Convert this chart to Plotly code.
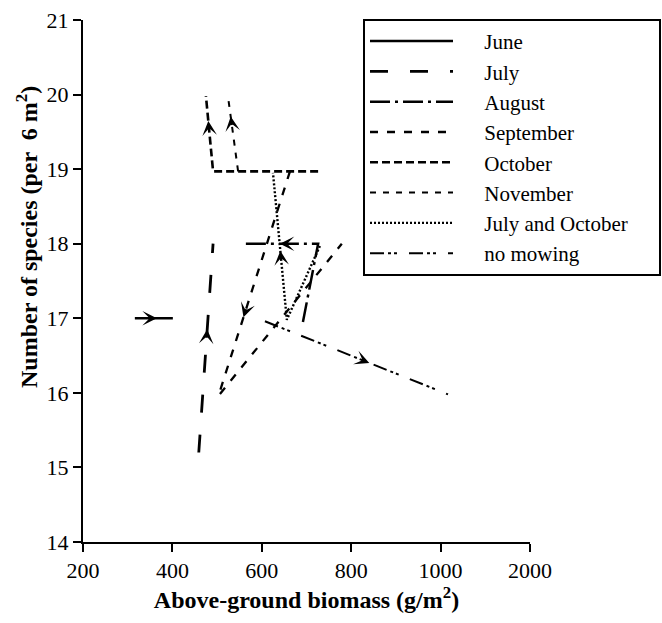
import plotly.graph_objects as go
import math

# ---------------- data (real values) ----------------
series_names = ["June", "July", "August", "September", "October",
                "November", "July and October", "no mowing"]

june_x = [316, 401]
june_y = [17.0, 17.0]

july_x = [459, 491]
july_y = [15.2, 18.0]

august_x = [692, 726, 558]
august_y = [16.95, 18.0, 18.0]

september_x = [663, 503, 779]
september_y = [18.97, 15.96, 18.0]

october_x = [726, 491, 475]
october_y = [18.97, 18.97, 19.98]

november_x = [547, 524]
november_y = [18.97, 19.99]

julyoct_x = [730, 656, 625]
julyoct_y = [17.97, 16.98, 18.95]

nomow_x = [607, 1083]
nomow_y = [16.96, 15.98]

# arrows: (series index, segment index, fraction along segment)
arrows = [(0, 0, 0.58), (1, 0, 0.59), (2, 1, 0.51), (3, 0, 0.65),
          (4, 1, 0.67), (5, 0, 0.72), (6, 1, 0.47), (7, 0, 0.57)]

x_tick_labels = ["200", "400", "600", "800", "1000", "2000"]
x_tick_real = [200, 400, 600, 800, 1000, 2000]
y_ticks = [14, 15, 16, 17, 18, 19, 20, 21]

x_title = "<b>Above-ground biomass (g/m<sup>2</sup>)</b>"
y_title = "<b>Number of species (per  6 m<sup>2</sup>)</b>"

# ---------------- styling ----------------
dashes = ["solid", "18px,22px", "20px,5px,3px,5px", "8px,9px",
          "8px,4px", "6px,7px", "2px,2px", "14px,4px,3px,3px,3px,12px"]
widths = [2.5, 2.8, 2.5, 2.3, 2.6, 2.0, 2.4, 2.0]

FONT = "Liberation Serif, Times New Roman, serif"
PAD_L = "\u00a0" * 5
PAD_R = "\u00a0" * 5


def pos(v):
    """broken axis: linear to 1000, then 1000-2000 compressed into 200 units"""
    if v is None:
        return None
    return v if v <= 1000 else 1000 + (v - 1000) / 5.0


all_x = [june_x, july_x, august_x, september_x, october_x, november_x, julyoct_x, nomow_x]
all_y = [june_y, july_y, august_y, september_y, october_y, november_y, julyoct_y, nomow_y]

fig = go.Figure()
for name, xs, ys, d, w in zip(series_names, all_x, all_y, dashes, widths):
    fig.add_trace(go.Scatter(
        x=[pos(v) for v in xs], y=ys, mode="lines", name=PAD_L + name + PAD_R,
        line=dict(color="black", width=w, dash=d), hoverinfo="skip",
    ))

# pixel scale for arrow tails
W, H = 662, 623
ml, mr, mt, mb = 83, 132, 20, 81
pw, ph = W - ml - mr, H - mt - mb
sx = pw / (1200 - 200)
sy = ph / (21 - 14)

for si, seg, fr in arrows:
    xs = [pos(v) for v in all_x[si]]
    ys = all_y[si]
    x0, y0, x1, y1 = xs[seg], ys[seg], xs[seg + 1], ys[seg + 1]
    tx, ty = x0 + fr * (x1 - x0), y0 + fr * (y1 - y0)
    dxp, dyp = (x1 - x0) * sx, (y1 - y0) * sy
    L = math.hypot(dxp, dyp)
    back = 10.0
    ax = tx - back * dxp / L / sx
    ay = ty - back * dyp / L / sy
    fig.add_annotation(x=tx, y=ty, ax=ax, ay=ay, xref="x", yref="y",
                       axref="x", ayref="y", showarrow=True, text="",
                       arrowhead=3, arrowsize=1.1, arrowwidth=2.2,
                       arrowcolor="black", standoff=0)

# y-axis title (placed off-centre, as in the original)
fig.add_annotation(text=y_title, xref="paper", yref="paper",
                   x=(27 - ml) / pw, y=(H - mb - 237) / ph,
                   xanchor="center", yanchor="middle", textangle=-90,
                   showarrow=False, font=dict(family=FONT, size=24, color="black"))

fig.update_layout(
    width=W, height=H,
    margin=dict(l=ml, r=mr, t=mt, b=mb, autoexpand=False),
    paper_bgcolor="white", plot_bgcolor="white",
    font=dict(family=FONT, size=22, color="black"),
    showlegend=True,
    legend=dict(
        x=(363 - ml) / pw, y=1.002, xanchor="left", yanchor="top",
        bgcolor="white", bordercolor="black", borderwidth=2,
        font=dict(family=FONT, size=21, color="black"),
        itemwidth=83, tracegroupgap=0,
    ),
    xaxis=dict(
        range=[200, 1200], tickmode="array",
        tickvals=[pos(v) for v in x_tick_real], ticktext=x_tick_labels,
        showgrid=False, zeroline=False, showline=True, linecolor="black",
        linewidth=2, ticks="outside", ticklen=8, tickwidth=2, tickcolor="black",
        tickfont=dict(family=FONT, size=22), automargin=False,
        title=dict(text=x_title, font=dict(family=FONT, size=24), standoff=8),
    ),
    yaxis=dict(
        range=[14, 21], tickmode="array", tickvals=y_ticks,
        ticktext=[str(v) for v in y_ticks],
        showgrid=False, zeroline=False, showline=True, linecolor="black",
        linewidth=2, ticks="outside", ticklen=8, tickwidth=2, tickcolor="black",
        tickfont=dict(family=FONT, size=22), automargin=False,
    ),
)

fig.write_html("out.html", post_script="document.body.style.margin='0';",
               config={"displayModeBar": False})
